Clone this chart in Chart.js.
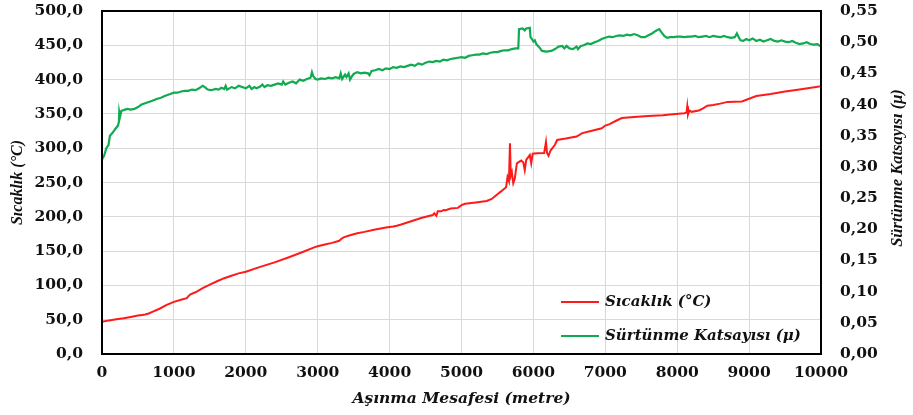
<!DOCTYPE html>
<html>
<head>
<meta charset="utf-8">
<script src="https://cdn.jsdelivr.net/npm/chart.js@4.4.1/dist/chart.umd.min.js"></script>
<style>
  html, body { margin: 0; padding: 0; background: #ffffff; }
  #wrap { width: 913px; height: 415px; position: relative; }
</style>
</head>
<body>
<div id="wrap"><canvas id="chart"></canvas></div>
<script>
// Temperature (°C) against wear distance (m)
const tempDistance = [0,100,200,300,400,500,560,600,650,700,800,900,1000,1100,1180,1200,1230,1300,1400,1500,1600,1700,1800,1900,2000,2200,2400,2600,2800,2950,3000,3100,3200,3300,3330,3360,3450,3550,3650,3800,3950,4050,4100,4150,4300,4450,4600,4620,4650,4670,4720,4750,4780,4850,4950,5000,5050,5200,5350,5420,5500,5550,5620,5640,5660,5674,5685,5700,5720,5740,5770,5800,5830,5860,5880,5900,5950,5970,5990,6050,6150,6175,6190,6210,6240,6300,6330,6450,6600,6680,6800,6950,7000,7060,7150,7230,7400,7600,7800,7900,8100,8130,8140,8150,8170,8200,8300,8360,8420,8500,8600,8700,8900,9000,9100,9300,9500,9700,10000];
const temperature = [47,49,50.5,52,54,56,57,57.5,59,61.5,66,71.5,76,79,81.5,84,87,90,96,101,106,110.5,114,117.5,120,127,133.5,141,149,155.5,157,159.5,162,165,168,170,173,176,178,181.5,184.5,186,187,188.5,193.5,198.5,202.5,205,201.5,208,208,210,209.5,212,213,217,219,221,223,226,233,237,243,258,252,307,260,265,249,255,278,280,282,279,268,283,290,278,292,292.5,293,309,293,289,297,305,312,314,317,322,325,329,333,335,340,344,345.5,347,348,349,351,352,361,349,355,353,355,358,362,363,365,367.5,368,372,376,379,382.5,385.5,390.5];

// Friction coefficient (μ) against wear distance (m)
const frictionDistance = [0,30,60,90,110,150,180,220,235,240,250,270,300,350,400,450,500,550,600,650,700,760,820,880,950,1000,1050,1100,1150,1200,1250,1300,1350,1400,1430,1470,1520,1580,1620,1660,1700,1720,1740,1800,1850,1900,1950,2000,2050,2080,2120,2150,2200,2230,2260,2300,2350,2400,2450,2500,2520,2550,2600,2650,2700,2750,2800,2850,2900,2920,2940,2970,3000,3050,3100,3150,3200,3250,3300,3320,3340,3380,3400,3430,3450,3480,3500,3550,3600,3650,3700,3720,3750,3800,3850,3900,3950,4000,4050,4100,4150,4200,4250,4300,4350,4400,4450,4500,4550,4600,4650,4700,4750,4800,4850,4900,4950,5000,5050,5100,5150,5200,5250,5300,5350,5400,5450,5500,5550,5600,5650,5700,5750,5790,5800,5850,5880,5900,5950,5960,5980,6000,6020,6040,6080,6120,6180,6250,6300,6350,6400,6430,6460,6500,6550,6600,6620,6660,6700,6750,6800,6850,6900,6950,7000,7050,7100,7150,7200,7250,7300,7350,7400,7450,7500,7550,7600,7650,7700,7750,7780,7820,7860,7900,7950,8000,8050,8100,8150,8200,8250,8300,8350,8400,8450,8500,8550,8600,8650,8700,8750,8800,8830,8850,8880,8920,8960,9000,9050,9100,9150,9200,9250,9300,9350,9400,9450,9500,9550,9600,9650,9700,9750,9800,9850,9900,9950,10000];
const friction = [0.312,0.318,0.330,0.335,0.350,0.355,0.360,0.366,0.372,0.387,0.380,0.390,0.391,0.393,0.392,0.393,0.396,0.400,0.402,0.404,0.406,0.409,0.411,0.414,0.417,0.419,0.419,0.421,0.422,0.422,0.424,0.423,0.426,0.430,0.428,0.424,0.423,0.425,0.424,0.427,0.425,0.430,0.424,0.428,0.426,0.430,0.428,0.426,0.430,0.425,0.428,0.426,0.429,0.432,0.428,0.431,0.430,0.432,0.434,0.432,0.437,0.432,0.435,0.437,0.434,0.440,0.438,0.441,0.443,0.452,0.445,0.441,0.440,0.442,0.441,0.443,0.442,0.444,0.442,0.450,0.441,0.448,0.444,0.450,0.440,0.446,0.449,0.452,0.450,0.451,0.450,0.447,0.454,0.455,0.457,0.455,0.458,0.457,0.460,0.459,0.461,0.460,0.462,0.464,0.462,0.466,0.464,0.467,0.469,0.468,0.470,0.469,0.472,0.471,0.473,0.474,0.475,0.476,0.475,0.478,0.479,0.480,0.480,0.482,0.481,0.483,0.484,0.484,0.486,0.487,0.487,0.489,0.490,0.490,0.521,0.522,0.519,0.522,0.523,0.508,0.505,0.501,0.503,0.497,0.492,0.486,0.485,0.486,0.489,0.493,0.494,0.490,0.494,0.490,0.489,0.493,0.489,0.494,0.495,0.498,0.497,0.500,0.502,0.505,0.507,0.509,0.508,0.510,0.511,0.510,0.512,0.511,0.513,0.511,0.508,0.508,0.511,0.514,0.518,0.521,0.516,0.510,0.507,0.508,0.508,0.509,0.509,0.508,0.509,0.509,0.510,0.508,0.509,0.510,0.508,0.510,0.509,0.508,0.510,0.508,0.507,0.508,0.514,0.509,0.503,0.502,0.505,0.503,0.506,0.502,0.504,0.501,0.503,0.505,0.502,0.501,0.503,0.501,0.500,0.502,0.499,0.497,0.498,0.500,0.497,0.496,0.497,0.493];

const tempLabel = 'Sıcaklık (°C)';
const frictionLabel = 'Sürtünme Katsayısı (μ)';
const xTitle = 'Aşınma Mesafesi (metre)';

const tickFont = { family: '"DejaVu Serif"', size: 15.5, weight: 'bold' };
const textColor = '#111111';

// Frame around the plot area
const framePlugin = {
  id: 'frame',
  afterDatasetsDraw(chart) {
    const { ctx, chartArea: a } = chart;
    ctx.save();
    ctx.strokeStyle = '#000000';
    ctx.lineWidth = 2;
    ctx.strokeRect(a.left, a.top, a.right - a.left, a.bottom - a.top);
    ctx.restore();
  }
};

// Right axis title reading bottom-to-top, and the in-plot legend
const extrasPlugin = {
  id: 'extras',
  afterDraw(chart) {
    const { ctx } = chart;
    ctx.save();
    ctx.fillStyle = textColor;
    ctx.font = 'italic bold 16.5px "Liberation Serif"';
    ctx.textAlign = 'center';
    ctx.textBaseline = 'middle';
    ctx.translate(898, 168);
    ctx.rotate(-Math.PI / 2);
    ctx.fillText(frictionLabel, 0, 0);
    ctx.restore();

    ctx.save();
    ctx.font = 'italic bold 15px "DejaVu Serif"';
    ctx.textBaseline = 'middle';
    ctx.textAlign = 'left';
    chart.data.datasets.forEach((ds, i) => {
      const y = 302 + i * 34;
      ctx.strokeStyle = ds.borderColor;
      ctx.lineWidth = 2;
      ctx.beginPath();
      ctx.moveTo(561, y);
      ctx.lineTo(599, y);
      ctx.stroke();
      ctx.fillStyle = textColor;
      ctx.fillText(ds.label, 605, y);
    });
    ctx.restore();
  }
};

// Vertical axes: drop the label overhang so the plot area reaches the top margin
const trimPadding = s => { s.paddingTop = 0; s.paddingBottom = 0; };

new Chart(document.getElementById('chart'), {
  type: 'line',
  data: {
    datasets: [
      {
        label: tempLabel,
        data: tempDistance.map((d, i) => ({ x: d, y: temperature[i] })),
        borderColor: '#ff1a1a',
        borderWidth: 2,
        pointRadius: 0,
        tension: 0,
        yAxisID: 'y'
      },
      {
        label: frictionLabel,
        data: frictionDistance.map((d, i) => ({ x: d, y: friction[i] })),
        borderColor: '#10aa50',
        borderWidth: 2.2,
        pointRadius: 0,
        tension: 0,
        yAxisID: 'y1'
      }
    ]
  },
  options: {
    responsive: true,
    maintainAspectRatio: false,
    animation: false,
    events: [],
    layout: { padding: { top: 11, left: 0, right: 0, bottom: 0 } },
    plugins: { legend: { display: false }, tooltip: { enabled: false } },
    scales: {
      x: {
        type: 'linear',
        min: 0, max: 10000,
        ticks: { stepSize: 1000, padding: 10, color: textColor, font: tickFont, maxRotation: 0,
                 callback: v => String(v) },
        grid: { color: '#d9d9d9', lineWidth: 1, drawTicks: false },
        border: { display: false },
        title: { display: true, text: xTitle, color: textColor,
                 font: { family: '"DejaVu Serif"', size: 15.5, weight: 'bold', style: 'italic' },
                 padding: { top: 0, bottom: 7 } },
        afterFit: s => { s.height = 61; s.paddingLeft = 0; s.paddingRight = 0; }
      },
      y: {
        position: 'left',
        min: 0, max: 500,
        ticks: { stepSize: 50, padding: 19, color: textColor, font: tickFont,
                 callback: v => v.toFixed(1).replace('.', ',') },
        grid: { color: '#d9d9d9', lineWidth: 1, drawTicks: false },
        border: { display: false },
        title: { display: true, text: tempLabel, color: textColor,
                 font: { family: '"Liberation Serif"', size: 16, weight: 'bold', style: 'italic' },
                 padding: { top: 8, bottom: 0 } },
        afterFit: s => { s.width = 102; trimPadding(s); }
      },
      y1: {
        position: 'right',
        min: 0, max: 0.55,
        ticks: { stepSize: 0.05, padding: 19, color: textColor, font: tickFont,
                 callback: v => v.toFixed(2).replace('.', ',') },
        grid: { display: false, drawTicks: false },
        border: { display: false },
        afterFit: s => { s.width = 92; trimPadding(s); }
      }
    }
  },
  plugins: [framePlugin, extrasPlugin]
});
</script>
</body>
</html>
